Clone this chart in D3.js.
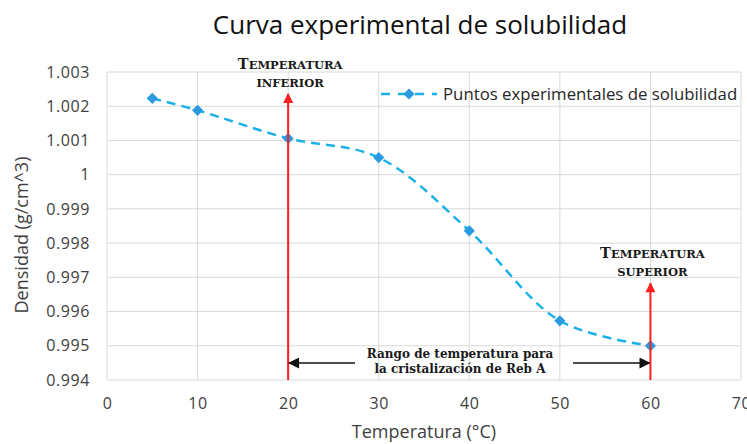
<!DOCTYPE html>
<head>
  <meta charset="utf-8">
</head>
<style>
body { margin: 0; background: #fff; }
.grid line { stroke: #d9d9d9; stroke-width: 1; }
.tick text { fill: #404040; font-family: "Open Sans", sans-serif; font-size: 16px; letter-spacing: 0.6px; }
.note { font-family: "DejaVu Serif", serif; font-weight: bold; fill: #1a1a1a; }
</style>
<body>
<script src="https://d3js.org/d3.v7.min.js"></script>
<script>
var width = 747, height = 444;
var margin = {top: 72, right: 6, bottom: 64, left: 107};

// data
var temps = [5, 10, 20, 30, 40, 50, 60];
var densities = [1.00223, 1.00188, 1.00106, 1.0005, 0.99836, 0.99573, 0.995];
var xTicks = [0, 10, 20, 30, 40, 50, 60, 70];
var yTicks = [0.994, 0.995, 0.996, 0.997, 0.998, 0.999, 1, 1.001, 1.002, 1.003];
var limits = [{t: 20, top: 1.00236, first: "EMPERATURA", second: "INFERIOR"},
              {t: 60, top: 0.99683, first: "EMPERATURA", second: "SUPERIOR"}];

var points = temps.map(function(t, i) { return {t: t, d: densities[i]}; });

var svg = d3.select("body").append("svg")
  .attr("width", width)
  .attr("height", height);

var x = d3.scaleLinear().domain([0, 70]).range([margin.left, width - margin.right]);
var y = d3.scaleLinear().domain([0.994, 1.003]).range([height - margin.bottom, margin.top]);

var defs = svg.append("defs");
defs.append("marker")
  .attr("id", "redhead")
  .attr("viewBox", "0 0 10 10")
  .attr("refX", 9).attr("refY", 5)
  .attr("markerWidth", 11).attr("markerHeight", 10)
  .attr("markerUnits", "userSpaceOnUse")
  .attr("orient", "auto")
  .append("path").attr("d", "M0,0L10,5L0,10Z").attr("fill", "#ff1f1f");
defs.append("marker")
  .attr("id", "blackhead")
  .attr("viewBox", "0 0 10 10")
  .attr("refX", 9).attr("refY", 5)
  .attr("markerWidth", 12).attr("markerHeight", 11)
  .attr("markerUnits", "userSpaceOnUse")
  .attr("orient", "auto")
  .append("path").attr("d", "M0,0L10,5L0,10Z").attr("fill", "#111");

// grid
var grid = svg.append("g").attr("class", "grid");
grid.selectAll(".h").data(yTicks).enter().append("line")
  .attr("x1", x(0)).attr("x2", x(70))
  .attr("y1", function(d) { return y(d); })
  .attr("y2", function(d) { return y(d); });
grid.selectAll(".v").data(xTicks).enter().append("line")
  .attr("y1", y(0.994)).attr("y2", y(1.003))
  .attr("x1", function(d) { return x(d); })
  .attr("x2", function(d) { return x(d); });

// axes
svg.append("g")
  .attr("transform", "translate(0," + y(0.994) + ")")
  .call(d3.axisBottom(x).tickValues(xTicks).tickSize(0).tickPadding(18))
  .call(function(g) { g.select(".domain").remove(); });

svg.append("g")
  .attr("transform", "translate(" + x(0) + ",0)")
  .call(d3.axisLeft(y).tickValues(yTicks).tickSize(0).tickPadding(17)
    .tickFormat(function(d) { return d === 1 ? "1" : d3.format(".3f")(d); }))
  .call(function(g) { g.select(".domain").remove(); });

// series
var line = d3.line()
  .x(function(d) { return x(d.t); })
  .y(function(d) { return y(d.d); })
  .curve(d3.curveCatmullRom.alpha(0.5));

svg.append("path")
  .datum(points)
  .attr("d", line)
  .attr("fill", "none")
  .attr("stroke", "#1ab0e8")
  .attr("stroke-width", 2.5)
  .attr("stroke-dasharray", "9,6");

svg.selectAll(".pt").data(points).enter().append("path")
  .attr("d", d3.symbol().type(d3.symbolDiamond2).size(80))
  .attr("transform", function(d) { return "translate(" + x(d.t) + "," + y(d.d) + ")"; })
  .attr("fill", "#2a9be0");

// red limit arrows and labels (small caps drawn by hand)
limits.forEach(function(l) {
  var cx = x(l.t) + 2, tip = y(l.top);
  svg.append("line")
    .attr("x1", x(l.t)).attr("x2", x(l.t))
    .attr("y1", y(0.994)).attr("y2", tip)
    .attr("stroke", "#ff1f1f").attr("stroke-width", 2)
    .attr("marker-end", "url(#redhead)");
  var t1 = svg.append("text").attr("class", "note")
    .attr("text-anchor", "middle")
    .attr("x", cx).attr("y", tip - 25);
  t1.append("tspan").attr("font-size", 14.5).text("T");
  t1.append("tspan").attr("font-size", 11.5).text(l.first);
  svg.append("text").attr("class", "note")
    .attr("text-anchor", "middle")
    .attr("x", cx).attr("y", tip - 7)
    .attr("font-size", 11.5)
    .text(l.second);
});

// range arrow
var ay = 363;
svg.append("line")
  .attr("x1", 355).attr("x2", x(20) + 1)
  .attr("y1", ay).attr("y2", ay)
  .attr("stroke", "#111").attr("stroke-width", 1.3)
  .attr("marker-end", "url(#blackhead)");
svg.append("line")
  .attr("x1", 573).attr("x2", x(60) - 1)
  .attr("y1", ay).attr("y2", ay)
  .attr("stroke", "#111").attr("stroke-width", 1.3)
  .attr("marker-end", "url(#blackhead)");
var rt = svg.append("text").attr("class", "note").attr("text-anchor", "middle").attr("font-size", 12);
rt.append("tspan").attr("x", 460).attr("y", 358).text("Rango de temperatura para");
rt.append("tspan").attr("x", 460).attr("y", 373).text("la cristalización de Reb A");

// legend
var lg = svg.append("g").attr("transform", "translate(381,94)");
lg.append("line").attr("x1", 0).attr("x2", 56)
  .attr("stroke", "#1ab0e8").attr("stroke-width", 2.5).attr("stroke-dasharray", "9,8");
lg.append("path")
  .attr("d", d3.symbol().type(d3.symbolDiamond2).size(80))
  .attr("transform", "translate(28,0)")
  .attr("fill", "#2a9be0");
lg.append("text").attr("x", 62).attr("y", 6)
  .attr("font-family", "Open Sans, sans-serif").attr("font-size", 16.8).attr("fill", "#262626")
  .text("Puntos experimentales de solubilidad");

// titles
svg.append("text")
  .attr("x", 420).attr("y", 34)
  .attr("text-anchor", "middle")
  .attr("font-family", "Open Sans, sans-serif").attr("font-size", 26).attr("fill", "#111")
  .text("Curva experimental de solubilidad");

svg.append("text")
  .attr("x", 424).attr("y", 438)
  .attr("text-anchor", "middle")
  .attr("font-family", "Open Sans, sans-serif").attr("font-size", 18).attr("fill", "#404040")
  .text("Temperatura (°C)");

svg.append("text")
  .attr("transform", "translate(28,235) rotate(-90)")
  .attr("text-anchor", "middle")
  .attr("font-family", "Open Sans, sans-serif").attr("font-size", 18).attr("fill", "#404040")
  .text("Densidad (g/cm^3)");
</script>
</body>
